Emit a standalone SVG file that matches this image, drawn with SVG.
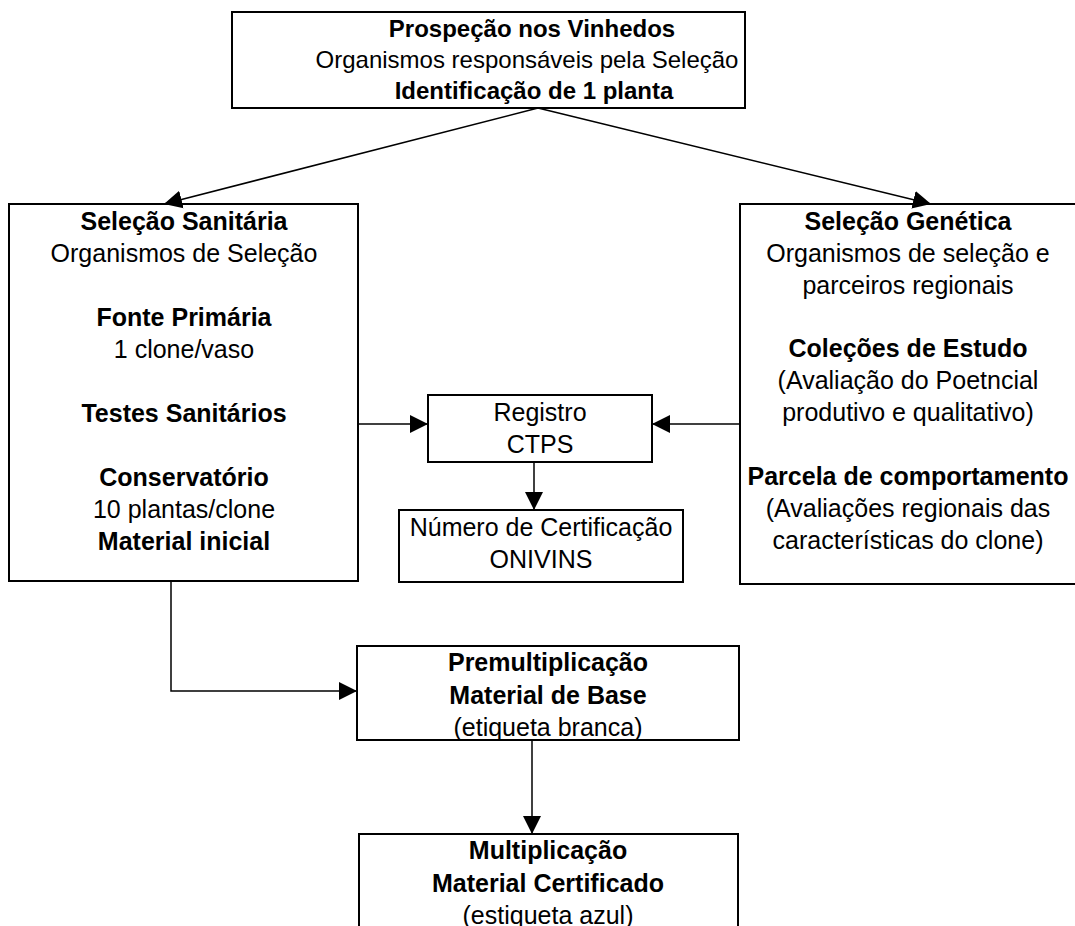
<svg xmlns="http://www.w3.org/2000/svg" width="1075" height="926" viewBox="0 0 1075 926">
<style>
.box{fill:#fff;stroke:#000;stroke-width:2}
.c{fill:none;stroke:#000;stroke-width:1.5}
text{font-family:"Liberation Sans",Arial,sans-serif;font-size:25px;fill:#000;text-anchor:middle}
.t{font-size:24px}
.b{font-weight:bold}
</style>
<defs>
<marker id="ah" viewBox="0 0 10 10" refX="10" refY="5" markerWidth="18" markerHeight="19" markerUnits="userSpaceOnUse" orient="auto">
<path d="M0,0 L10,5 L0,10 Z" fill="#000"/>
</marker>
</defs>
<rect width="1075" height="926" fill="#fff"/>
<g id="top">
<rect class="box" x="232" y="12" width="513" height="96"/>
<text class="b t" x="532" y="37">Prospeção nos Vinhedos</text>
<text class="t" x="527" y="68">Organismos responsáveis pela Seleção</text>
<text class="b t" x="534" y="99">Identificação de 1 planta</text>
</g>
<g id="sanitaria">
<rect class="box" x="9" y="204" width="349" height="377"/>
<text class="b" x="184" y="230">Seleção Sanitária</text>
<text x="184" y="262">Organismos de Seleção</text>
<text class="b" x="184" y="326">Fonte Primária</text>
<text x="184" y="358">1 clone/vaso</text>
<text class="b" x="184" y="422">Testes Sanitários</text>
<text class="b" x="184" y="486">Conservatório</text>
<text x="184" y="518">10 plantas/clone</text>
<text class="b" x="184" y="550">Material inicial</text>
</g>
<g id="genetica">
<rect class="box" x="740" y="204" width="345" height="380"/>
<text class="b" x="908" y="230">Seleção Genética</text>
<text x="908" y="262">Organismos de seleção e</text>
<text x="908" y="294">parceiros regionais</text>
<text class="b" x="908" y="357">Coleções de Estudo</text>
<text x="908" y="389">(Avaliação do Poetncial</text>
<text x="908" y="421">produtivo e qualitativo)</text>
<text class="b" x="908" y="485">Parcela de comportamento</text>
<text x="908" y="517">(Avaliações regionais das</text>
<text x="908" y="549">características do clone)</text>
</g>
<g id="registro">
<rect class="box" x="428" y="395" width="224" height="67"/>
<text x="540" y="421">Registro</text>
<text x="540" y="453">CTPS</text>
</g>
<g id="numero">
<rect class="box" x="399" y="510" width="284" height="72"/>
<text x="541" y="536">Número de Certificação</text>
<text x="541" y="568">ONIVINS</text>
</g>
<g id="premult">
<rect class="box" x="357" y="646" width="382" height="94"/>
<text class="b" x="548" y="671">Premultiplicação</text>
<text class="b" x="548" y="704">Material de Base</text>
<text x="548" y="736">(etiqueta branca)</text>
</g>
<g id="mult">
<rect class="box" x="359" y="834" width="379" height="110"/>
<text class="b" x="548" y="859">Multiplicação</text>
<text class="b" x="548" y="892">Material Certificado</text>
<text x="548" y="924">(estiqueta azul)</text>
</g>
<g id="connectors">
<line class="c" x1="538" y1="108" x2="164" y2="204" marker-end="url(#ah)"/>
<line class="c" x1="538" y1="108" x2="931" y2="204" marker-end="url(#ah)"/>
<line class="c" x1="358" y1="424" x2="428" y2="424" marker-end="url(#ah)"/>
<line class="c" x1="740" y1="424" x2="652" y2="424" marker-end="url(#ah)"/>
<line class="c" x1="534" y1="462" x2="534" y2="510" marker-end="url(#ah)"/>
<polyline class="c" points="171,581 171,691 357,691" marker-end="url(#ah)"/>
<line class="c" x1="532" y1="740" x2="532" y2="834" marker-end="url(#ah)"/>
</g>
</svg>
